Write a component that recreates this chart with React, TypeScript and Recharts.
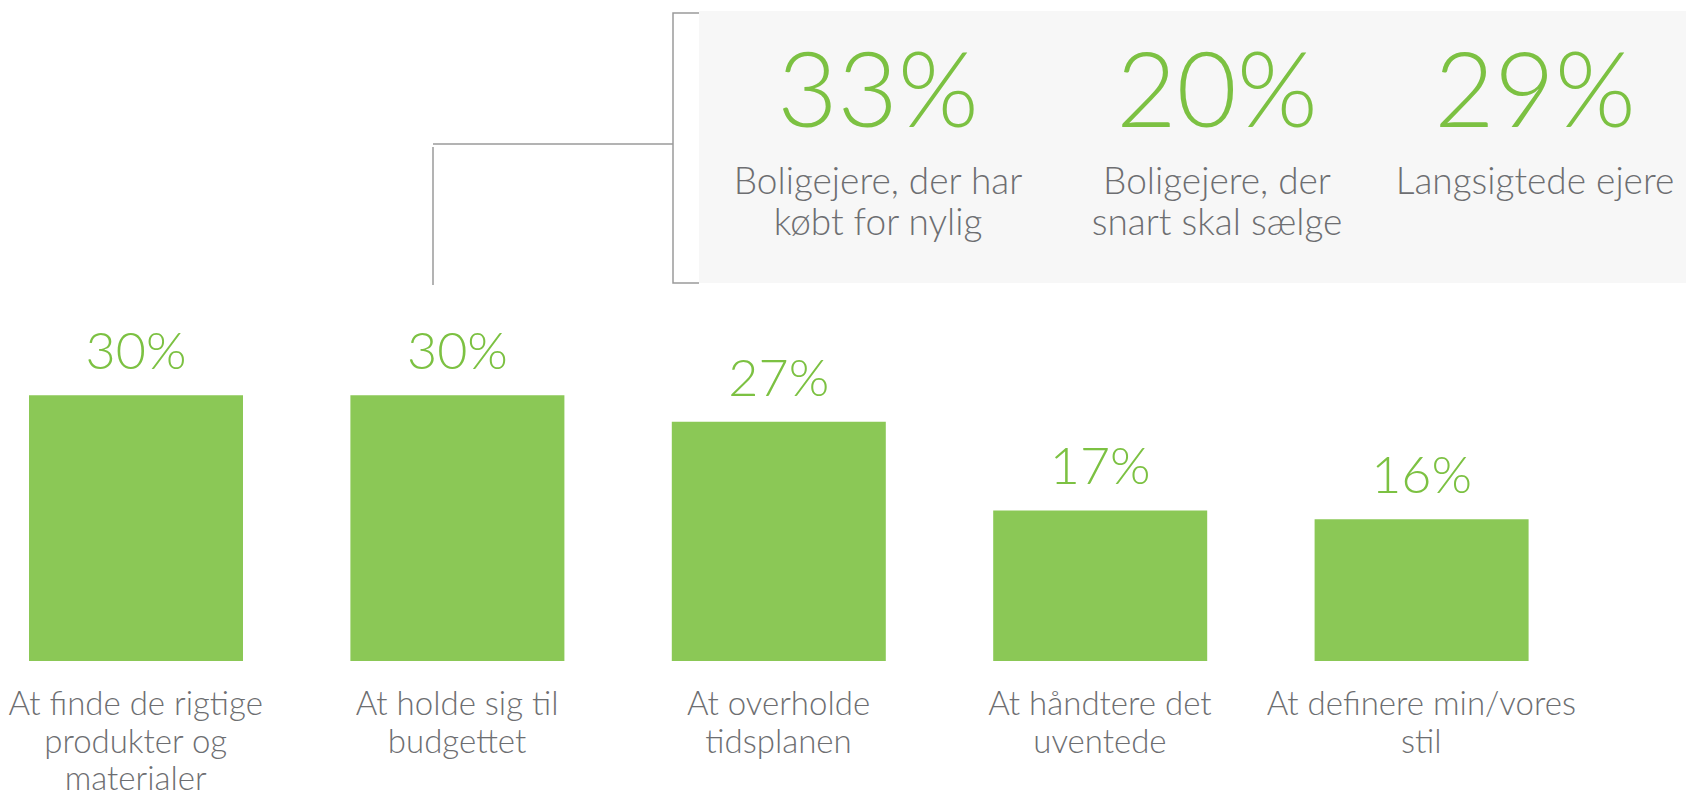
import { BarChart, Bar, XAxis, YAxis, LabelList } from "recharts"

const categories = [
  "At finde de rigtige\nprodukter og\nmaterialer",
  "At holde sig til\nbudgettet",
  "At overholde\ntidsplanen",
  "At håndtere det\nuventede",
  "At definere min/vores\nstil",
]
const shares = [30, 30, 27, 17, 16]

const panelValues = [33, 20, 29]
const panelLabels = [
  "Boligejere, der har\nkøbt for nylig",
  "Boligejere, der\nsnart skal sælge",
  "Langsigtede ejere",
]

const GREEN = "#7cc142"
const BAR = "#8bc856"
const GRAY_TEXT = "#6d6e71"
const LINE = "#9a9a9a"
const FONT = "Lato, 'Open Sans', sans-serif"

const chartData = categories.map((name, i) => ({ name, share: shares[i] }))

function CategoryTick(props: any) {
  const { x, y, payload } = props
  const lines = String(payload.value).split("\n")
  return (
    <text x={x} y={y} textAnchor="middle" fill={GRAY_TEXT} fontSize={33} fontFamily={FONT} fontWeight={300}>
      {lines.map((line: string, i: number) => (
        <tspan key={i} x={x} dy={i === 0 ? 54 : 37.6}>
          {line}
        </tspan>
      ))}
    </text>
  )
}

// callout panel in the upper right, with the bracket pointing at the second bar
function Panel() {
  const centers = [878, 1217, 1535]
  return (
    <svg width={1686} height={300} style={{ position: "absolute", left: 0, top: 0 }}>
      <rect x={699} y={11} width={987} height={272} fill="#f7f7f7" />
      <path d="M699 13 H673 V283 H699" fill="none" stroke={LINE} strokeWidth={1.5} />
      <path d="M673 144 H433" fill="none" stroke={LINE} strokeWidth={1.5} />
      <path d="M433 147 V285" fill="none" stroke={LINE} strokeWidth={1.5} />
      {panelValues.map((v, i) => (
        <text key={"v" + i} x={centers[i]} y={127} textAnchor="middle" fill={GREEN} fontSize={104} fontFamily={FONT} fontWeight={300}>
          {v}%
        </text>
      ))}
      {panelLabels.map((label, i) => (
        <text key={"l" + i} x={centers[i]} y={193.5} textAnchor="middle" fill={GRAY_TEXT} fontSize={37} fontFamily={FONT} fontWeight={300}>
          {label.split("\n").map((line, j) => (
            <tspan key={j} x={centers[i]} dy={j === 0 ? 0 : 41}>
              {line}
            </tspan>
          ))}
        </text>
      ))}
    </svg>
  )
}

export default function App() {
  return (
    <div style={{ position: "absolute", left: 0, top: 0, width: 1686, height: 790, background: "#fff", overflow: "hidden" }}>
      <BarChart
        width={1686}
        height={790}
        data={chartData}
        margin={{ top: 351, right: 104, left: -25, bottom: 9 }}
      >
        <XAxis
          dataKey="name"
          axisLine={false}
          tickLine={false}
          tickSize={0}
          tickMargin={0}
          height={120}
          interval={0}
          tick={<CategoryTick />}
        />
        <YAxis hide domain={[0, 35]} />
        <Bar dataKey="share" fill={BAR} barSize={214} isAnimationActive={false}>
          <LabelList
            dataKey="share"
            position="top"
            offset={26}
            formatter={(v: any) => `${v}%`}
            fill={GREEN}
            fontSize={52}
            fontFamily={FONT}
            fontWeight={300}
          />
        </Bar>
      </BarChart>
      <Panel />
    </div>
  )
}
